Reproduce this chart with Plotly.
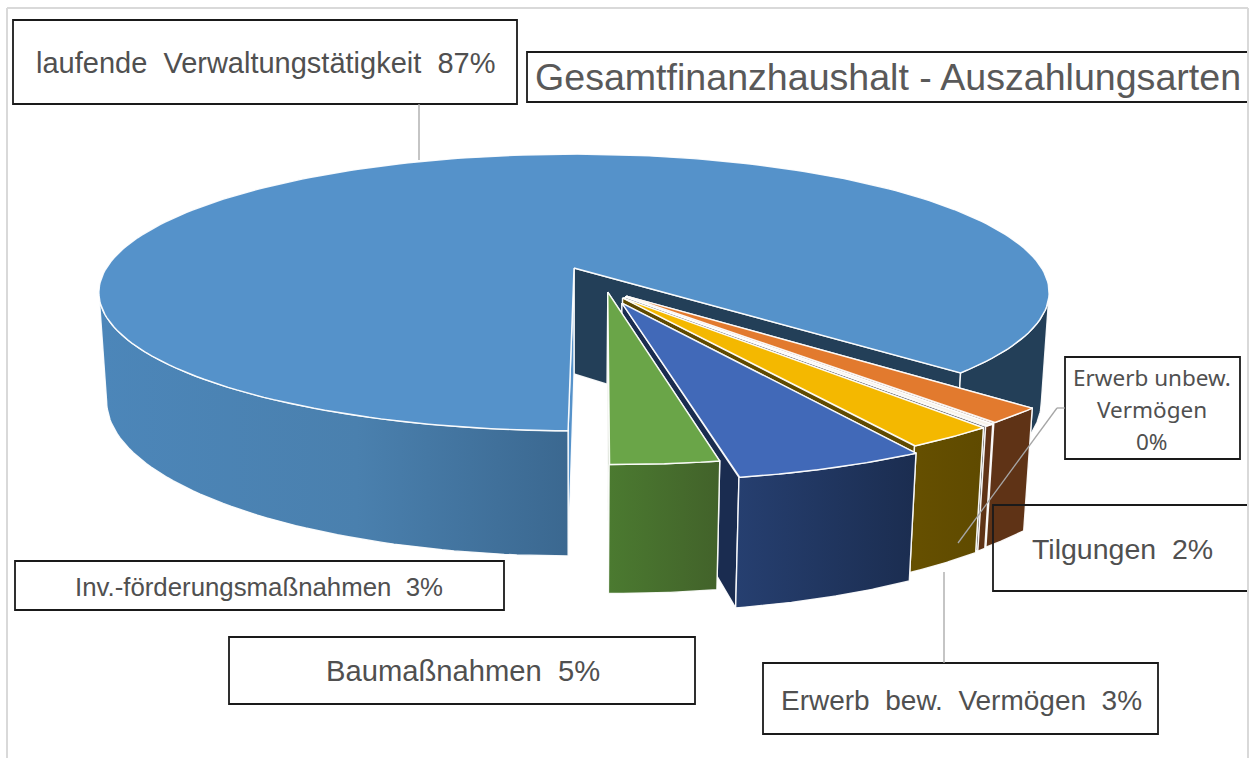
import math
import plotly.graph_objects as go

# ---- data (share of payments; order = clockwise from the front)
categories = ["Inv.-förderungsmaßnahmen", "Baumaßnahmen", "Erwerb bew. Vermögen",
              "Erwerb unbew. Vermögen", "Tilgungen", "laufende Verwaltungstätigkeit"]
values = [3.05, 5.35, 2.6, 0.3, 1.8, 86.9]
shown_percent = [3, 5, 3, 0, 2, 87]
title_text = "Gesamtfinanzhaushalt - Auszahlungsarten"

# ---- style
top_colors = ["#6aa548", "#4169b8", "#f4b800", "#f7f3ea", "#e27a2e", "#5592ca"]
wall_colors = [("#4b7a30", "#42622a"), ("#263f70", "#1b2d50"), ("#665000", "#5f4a00"),
               ("#5f3316", "#5f3316"), ("#5f3316", "#5f3316"), ("#4c86b9", "#3b6890")]
cut_colors = ["#42622a", "#1a2c50", "#5f4a00", "#424242", "#5f3316", "#233f58"]
# position of every pulled-out slice's tip on the plate
tips = [(0.070, 0.174), (0.098, 0.250), (0.100, 0.215), (0.105, 0.208), (0.108, 0.202), (0.0, 0.0)]
radii = [0.99, 0.99, 0.99, 0.99, 0.99, 1.0]
START = -0.6

# ---- perspective of the plate
CX, CY, RX, RY, H, P, Q = 574, 268, 467.6, 134, 107.7, -0.177, 0.016


def proj(u, v, z=0):
    w = 1 + P * v + Q * z
    return CX + RX * u / w, CY + (RY * v + H * z) / w


def arc(i, a, b, z=0, n=60):
    pts = []
    for k in range(n + 1):
        t = math.radians(a + (b - a) * k / n)
        pts.append(proj(tips[i][0] + radii[i] * math.sin(t),
                        tips[i][1] + radii[i] * math.cos(t), z))
    return pts


fig = go.Figure()


def poly(pts, color=None, grad=None, gtype="horizontal"):
    xs = [p[0] for p in pts] + [pts[0][0]]
    ys = [p[1] for p in pts] + [pts[0][1]]
    kw = dict(x=xs, y=ys, mode="lines", fill="toself", hoverinfo="skip", showlegend=False,
              line=dict(color="rgba(255,255,255,0.92)", width=1.4))
    if grad:
        kw["fillgradient"] = dict(type=gtype, colorscale=grad)
    else:
        kw["fillcolor"] = color
    fig.add_trace(go.Scatter(**kw))


total = sum(values)
spans = []
a = START
for val in values:
    b = a + 360 * val / total
    spans.append((a, b))
    a = b

EXT = math.degrees(math.acos(-P))
for i in [5, 4, 3, 2, 1, 0]:
    a, b = spans[i]
    tip_t = proj(*tips[i])
    tip_b = proj(*tips[i], 1)
    # cut faces
    if i == 5:
        end_t, end_b = arc(i, a, a, 0, 1)[0], arc(i, a, a, 1, 1)[0]
        poly([tip_t, end_t, end_b, tip_b], cut_colors[i])
        st_t, st_b = arc(i, b, b, 0, 1)[0], arc(i, b, b, 1, 1)[0]
        poly([tip_t, st_t, st_b, tip_b],
             grad=[[0, "#5592ca"], [0.72, "#5592ca"], [1, "#ffffff"]], gtype="vertical")
        poly(arc(i, a, EXT) + arc(i, EXT, a, 1), cut_colors[i])
        poly(arc(i, 360 - EXT, b) + arc(i, b, 360 - EXT, 1),
             grad=[[0, wall_colors[i][0]], [0.55, "#4a80ae"], [1, wall_colors[i][1]]])
    else:
        for ang in (b, a):
            e_t, e_b = arc(i, ang, ang, 0, 1)[0], arc(i, ang, ang, 1, 1)[0]
            poly([tip_t, e_t, e_b, tip_b], cut_colors[i])
        poly(arc(i, a, b) + arc(i, b, a, 1),
             grad=[[0, wall_colors[i][0]], [1, wall_colors[i][1]]])
    # top
    poly([tip_t] + arc(i, a, b, 0, 240), top_colors[i])

# ---- label boxes and text
BLK = "#1a1a1a"
boxes = [(13, 20, 517, 104), (15, 561, 504, 610), (229, 637, 695, 704),
         (763, 663, 1158, 734), (1065, 357, 1240, 459)]
open_boxes = [(527, 52, 1247, 102), (993, 505, 1247, 591)]
shapes = [dict(type="rect", x0=x0, y0=y0, x1=x1, y1=y1, line=dict(color=BLK, width=1.8), layer="above")
          for x0, y0, x1, y1 in boxes]
shapes += [dict(type="path", path=f"M{x1},{y0} L{x0},{y0} L{x0},{y1} L{x1},{y1}",
                line=dict(color=BLK, width=1.8), layer="above")
           for x0, y0, x1, y1 in open_boxes]
for seg in [((419, 104), (419, 160)), ((944, 663), (944, 572)),
            ((1065, 408), (1057, 408)), ((1057, 408), (958, 543))]:
    shapes.append(dict(type="line", x0=seg[0][0], y0=seg[0][1], x1=seg[1][0], y1=seg[1][1],
                       line=dict(color="#a6a6a6", width=1.3), layer="above"))
for seg in [((7, 8), (7, 758)), ((7, 8), (1248, 8)), ((1248, 8), (1248, 758))]:
    shapes.append(dict(type="line", x0=seg[0][0], y0=seg[0][1], x1=seg[1][0], y1=seg[1][1],
                       line=dict(color="#d9d9d9", width=2), layer="below"))

SP = "\u00a0\u00a0"
def lab(i):
    return categories[i].replace(" ", SP) + SP + f"{shown_percent[i]}%"

FONT = "Liberation Sans"
texts = [
    (265, 63, lab(5), 29, FONT, "#505050"),
    (888, 77, title_text, 37.6, FONT, "#595959"),
    (259, 587, lab(0), 25.8, FONT, "#505050"),
    (463, 671, lab(1), 29.2, FONT, "#505050"),
    (961, 700, lab(2), 28, FONT, "#505050"),
    (1122, 549, lab(4), 28.5, FONT, "#505050"),
    (1152, 377, "Erwerb unbew.", 22.5, "Noto Sans", "#505050"),
    (1152, 409, "Vermögen", 22.5, "Noto Sans", "#505050"),
    (1152, 441, f"{shown_percent[3]}%", 22.5, "Noto Sans", "#505050"),
]
annotations = [dict(x=x, y=y, text=t, showarrow=False, xanchor="center", yanchor="middle",
                    font=dict(size=s, family=f, color=c))
               for x, y, t, s, f, c in texts]

fig.update_layout(
    width=1250, height=758, margin=dict(l=0, r=0, t=0, b=0),
    paper_bgcolor="white", plot_bgcolor="white", showlegend=False,
    xaxis=dict(range=[0, 1250], visible=False, fixedrange=True),
    yaxis=dict(range=[758, 0], visible=False, fixedrange=True),
    shapes=shapes, annotations=annotations,
)
fig.write_html("out.html", config=dict(displayModeBar=False),
               post_script="document.body.style.margin='0';document.documentElement.style.overflow='hidden';")
